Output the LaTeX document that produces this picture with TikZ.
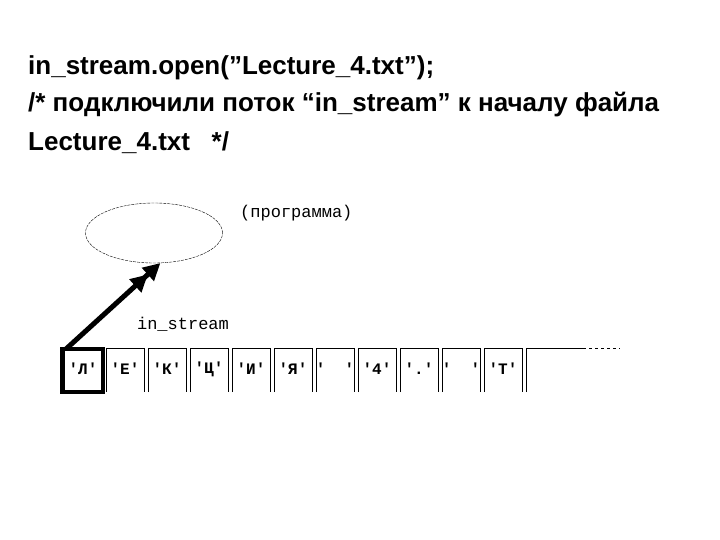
\documentclass[tikz,border=0pt]{standalone}
\usepackage{fontspec}
\setmainfont[Ligatures=NoCommon]{Liberation Sans}
\newfontfamily\monof{Liberation Mono}
\usetikzlibrary{arrows.meta,shapes.geometric}
\begin{document}
\begin{tikzpicture}[x=1pt,y=-1pt,
  title/.style={anchor=west,font=\fontsize{26}{30}\selectfont\bfseries,inner sep=0},
  lab/.style={font=\monof\fontsize{17}{20}\selectfont,inner sep=0},
  cell/.style={font=\monof\bfseries\fontsize{16}{19}\selectfont,inner sep=0}]
\useasboundingbox (0,0) rectangle (720,540);
\node[title] (t1) at (28,68) {in\_stream.open(\symbol{34}Lecture\_4.txt\symbol{34});};
\node[title] (t2) at (28,105) {/* подключили поток “in\_stream” к началу файла};
\node[title] (t3) at (28,143) {Lecture\_4.txt\ \ \ */};
\node[draw,dash pattern=on 3pt off 1pt,ellipse,minimum width=137,minimum height=60,inner sep=0] (prog) at (154,233) {};
\node[lab,anchor=west] (pl) at (240,213) {(программа)};
\node[lab] (is) at (183,324) {in\_stream};
\foreach \t [count=\i from 0] in {'Л','Е','К','Ц','И','Я','\ \ ','4','.','\ \ ','Т'}{
  \draw[line width=1pt] (62+\i*42+2,392) -- (62+\i*42+2,348) -- (62+\i*42+40,348) -- (62+\i*42+40,392);
  \node[cell] (c\i) at (62+\i*42+21,369) {\t};
}
\draw[line width=4pt] (62,349) rectangle (103,392);
\draw[line width=1pt] (526,392) -- (526,348) -- (583,348);
\draw[line width=1pt,dashed] (583,348) -- (620,348);
\coordinate (s) at (66,349);
\draw[line width=5pt,-{Triangle[length=17pt,width=17pt]Triangle[length=17pt,width=17pt]}] (s) -- (prog.282);
\end{tikzpicture}
\end{document}
